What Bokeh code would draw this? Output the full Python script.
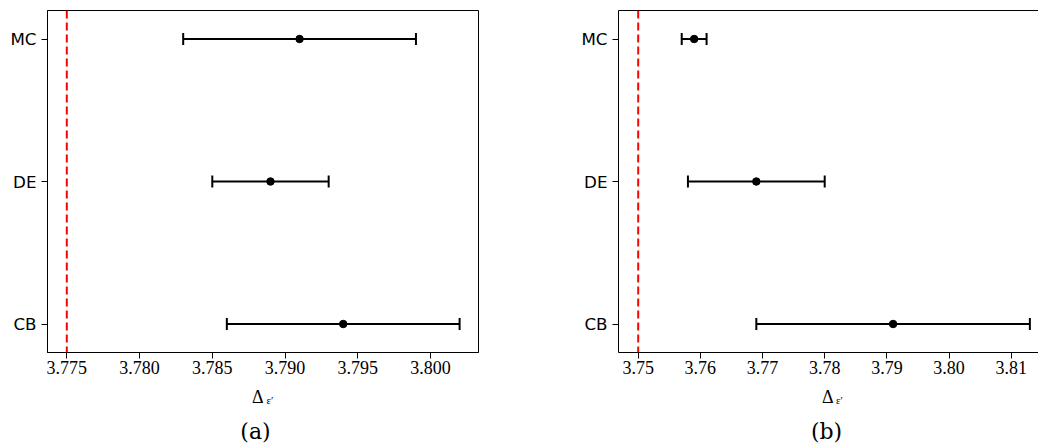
from bokeh.plotting import figure
from bokeh.models import (ColumnDataSource, Whisker, TeeHead, Span, Label,
                          FixedTicker, LinearAxis, Range1d)
from bokeh.layouts import row, column
from bokeh.embed import file_html
from bokeh.resources import INLINE

# ---------------- data ----------------
methods = ["CB", "DE", "MC"]
method_pos = [0, 1, 2]

a_mean = [3.794, 3.789, 3.791]
a_err = [0.008, 0.004, 0.008]
a_ref = 3.775
a_ticks = [3.775, 3.780, 3.785, 3.790, 3.795, 3.800]
a_tick_labels = ["3.775", "3.780", "3.785", "3.790", "3.795", "3.800"]

b_mean = [3.791, 3.769, 3.759]
b_err = [0.022, 0.011, 0.002]
b_ref = 3.75
b_ticks = [3.75, 3.76, 3.77, 3.78, 3.79, 3.80, 3.81]
b_tick_labels = ["3.75", "3.76", "3.77", "3.78", "3.79", "3.80", "3.81"]

captions = ["(a)", "(b)"]
x_label_main = "Δ"
x_label_sub = "ε′"

# ---------------- layout constants ----------------
FRAME_H = 342
TOP = 10
BOTTOM = 28
Y0, Y1 = -0.2, 2.2
STRIP_TOP = TOP + FRAME_H + BOTTOM   # page y where the label strip starts
PAGE_H = 445


def make_panel(mean, err, ref, ticks, tick_labels, x0, x1,
               frame_w, left, right, full_outline):
    p = figure(frame_width=frame_w, frame_height=FRAME_H,
               x_range=Range1d(x0, x1), y_range=Range1d(Y0, Y1),
               output_backend="svg", toolbar_location=None,
               min_border_left=left, min_border_right=right,
               min_border_top=TOP, min_border_bottom=BOTTOM,
               background_fill_color="white", border_fill_color="white")
    p.grid.visible = False

    lo = [m - e for m, e in zip(mean, err)]
    hi = [m + e for m, e in zip(mean, err)]
    src = ColumnDataSource(dict(y=method_pos, mean=mean, lower=lo, upper=hi))

    p.add_layout(Span(location=ref, dimension="height", line_color="red",
                      line_width=2, line_dash="8 4"))

    wh = Whisker(source=src, base="y", lower="lower", upper="upper",
                 dimension="width", line_color="black", line_width=2,
                 upper_head=TeeHead(size=12, line_width=2, line_color="black"),
                 lower_head=TeeHead(size=12, line_width=2, line_color="black"))
    p.add_layout(wh)
    p.scatter(x="mean", y="y", source=src, size=7.5, color="black")

    xa = p.below[0]
    xa.ticker = FixedTicker(ticks=ticks)
    xa.major_label_overrides = {t: l for t, l in zip(ticks, tick_labels)}
    xa.major_label_text_font = "Liberation Serif"
    xa.major_label_text_font_size = "18px"
    xa.major_label_text_color = "black"
    xa.major_label_standoff = 2
    xa.major_tick_out = 6
    xa.major_tick_in = 0
    xa.minor_tick_line_color = None
    xa.axis_line_color = "black"
    xa.major_tick_line_color = "black"

    ya = p.left[0]
    ya.ticker = FixedTicker(ticks=method_pos)
    ya.major_label_overrides = {pos: m for pos, m in zip(method_pos, methods)}
    ya.major_label_text_font = "DejaVu Sans"
    ya.major_label_text_font_size = "16.7px"
    ya.major_label_text_color = "black"
    ya.major_label_standoff = 5
    ya.major_tick_out = 6
    ya.major_tick_in = 0
    ya.minor_tick_line_color = None
    ya.axis_line_color = "black"
    ya.major_tick_line_color = "black"

    if full_outline:
        p.outline_line_color = "black"
        p.outline_line_width = 1
    else:
        p.outline_line_color = None
        top_ax = LinearAxis(ticker=FixedTicker(ticks=[]),
                            major_tick_out=0, major_tick_in=0,
                            minor_tick_out=0, minor_tick_in=0,
                            major_label_standoff=0,
                            major_label_text_font_size="0px",
                            axis_line_color="black", axis_line_width=1)
        p.add_layout(top_ax, "above")
    return p


# panel (a): frame page x 47..478
pa = make_panel(a_mean, a_err, a_ref, a_ticks, a_tick_labels,
                3.773673, 3.803299, 431, 47, 62, True)
# panel (b): canvas starts page x 540, frame page x 618..1038
pb = make_panel(b_mean, b_err, b_ref, b_ticks, b_tick_labels,
                3.746831, 3.814388, 420, 78, 0, False)

# strip below both panels holding the axis titles and captions
strip_h = PAGE_H - STRIP_TOP
pc = figure(frame_width=1038, frame_height=strip_h,
            x_range=Range1d(0, 1038), y_range=Range1d(PAGE_H, STRIP_TOP),
            output_backend="svg", toolbar_location=None,
            x_axis_location=None, y_axis_location=None,
            min_border_left=0, min_border_right=0,
            min_border_top=0, min_border_bottom=0,
            outline_line_color=None,
            background_fill_color="white", border_fill_color="white")
pc.grid.visible = False

for d_x, e_x in [(251.5, 266.0), (821.5, 835.5)]:
    pc.add_layout(Label(x=d_x, y=396, text=x_label_main,
                        text_font="Liberation Serif", text_font_size="18px",
                        text_align="left", text_baseline="alphabetic",
                        text_color="black"))
    pc.add_layout(Label(x=e_x, y=399, text=x_label_sub,
                        text_font="Liberation Serif", text_font_size="11px",
                        text_align="left", text_baseline="alphabetic",
                        text_color="black"))
for cap, cx in zip(captions, [255, 826]):
    pc.add_layout(Label(x=cx, y=431, text=cap, text_font="DejaVu Serif",
                        text_font_size="22px", text_align="center",
                        text_baseline="middle", text_color="black"))

layout = column(row(pa, pb), pc)
open("out.html", "w").write(file_html(layout, INLINE))
